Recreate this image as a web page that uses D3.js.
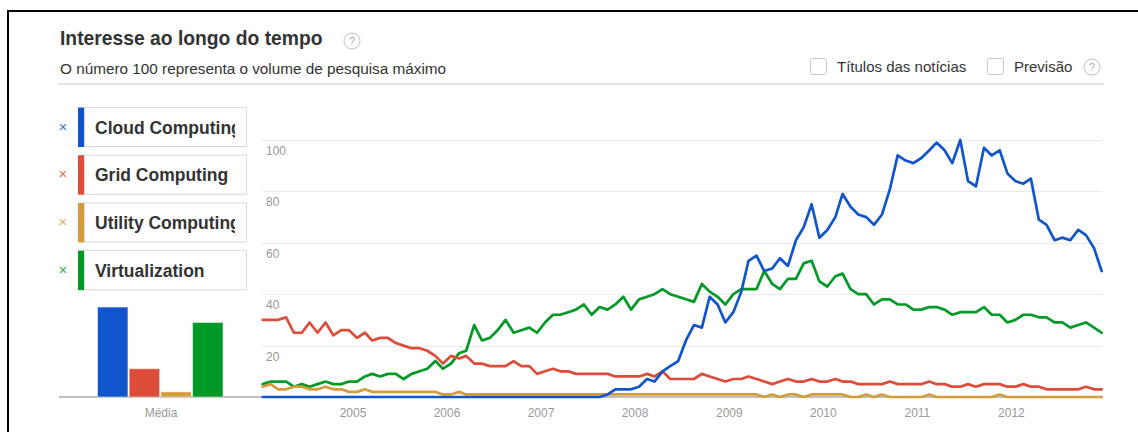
<!DOCTYPE html>
<html lang="pt">
<head>
<meta charset="UTF-8">
<title>Interesse ao longo do tempo</title>
<script src="https://d3js.org/d3.v7.min.js"></script>
<style>
    body { margin: 0; padding: 0; background: #fff; }
    svg { display: block; font-family: 'Liberation Sans', Arial, sans-serif; }
    .grid line { stroke: #ebebeb; stroke-width: 1; }
    .tick-label { font-size: 12px; fill: #999; }
    .legend-text { font-size: 17.5px; font-weight: bold; fill: #333; }
    .series { fill: none; stroke-width: 2.7; stroke-linejoin: round; stroke-linecap: round; }
</style>
</head>
<body>
<div id="chart"></div>
<script>
// series names and colours
const seriesNames = ["Cloud Computing", "Grid Computing", "Utility Computing", "Virtualization"];
const seriesColors = ["#1155cc", "#dd4b39", "#d49c3a", "#009925"];

// monthly values, Jan 2004 .. Dec 2012
const cloud = [
    0,0,0,0,0,0,0,0,0,0,0,0,
    0,0,0,0,0,0,0,0,0,0,0,0,
    0,0,0,0,0,0,0,0,0,0,0,0,
    0,0,0,0,0,0,0,0,1,3,3,3,
    4,7,6,10,12,14,22,28,27,39,36,29,
    33,41,53,55,49,50,54,51,61,66,75,62,
    65,70,79,74,71,70,67,71,81,94,92,91,
    93,96,99,96,91,100,84,82,97,94,96,87,
    84,83,85,69,67,61,62,61,65,63,58,49
];
const grid = [
    30,30,30,31,25,25,29,25,29,24,26,26,
    23,25,22,23,23,21,20,19,19,18,16,13,
    16,15,16,13,13,12,12,12,14,12,12,9,
    10,11,10,10,9,9,9,9,9,8,8,8,
    8,9,8,10,7,7,7,7,9,8,7,6,
    7,7,8,7,6,5,6,7,6,6,7,6,
    6,7,6,6,5,5,5,5,6,5,5,5,
    5,6,5,5,4,4,5,4,5,5,5,4,
    4,5,4,4,3,3,3,3,3,4,3,3
];
const utility = [
    4,5,3,3,4,4,3,3,4,3,3,2,
    2,3,2,2,2,2,2,2,2,2,2,1,
    1,2,1,1,1,1,1,1,1,1,1,1,
    1,1,1,1,1,1,1,1,1,1,1,1,
    1,1,1,1,1,1,1,1,1,1,1,1,
    1,1,1,1,0,1,0,1,1,0,1,1,
    1,1,1,0,0,1,0,1,0,0,0,0,
    0,1,0,0,0,0,0,0,0,0,1,0,
    0,0,0,0,0,0,0,0,0,0,0,0
];
const virtualization = [
    5,6,6,6,4,5,4,5,6,5,5,6,
    6,8,9,8,9,9,7,9,10,11,14,11,
    13,17,18,28,22,23,26,30,25,26,27,25,
    29,32,32,33,34,36,32,35,34,36,39,34,
    38,39,40,42,40,39,38,37,44,41,39,36,
    40,42,42,42,49,44,42,46,46,52,53,45,
    43,47,48,42,40,40,36,38,38,36,36,34,
    34,35,35,34,32,33,33,33,35,32,32,29,
    30,32,32,31,31,29,29,27,28,29,27,25
];
const averages = [35, 11, 2, 29];
const yTicks = [20, 40, 60, 80, 100];
const yearTicks = [2005, 2006, 2007, 2008, 2009, 2010, 2011, 2012];

const seriesData = [cloud, grid, utility, virtualization];
const months = d3.timeMonth.range(new Date(2004, 0, 1), new Date(2013, 0, 1));

const W = 1138, H = 432;
const svg = d3.select("#chart").append("svg").attr("width", W).attr("height", H);
svg.append("rect").attr("width", W).attr("height", H).attr("fill", "#fff");

// frame
svg.append("line").attr("x1", 7).attr("x2", W).attr("y1", 11).attr("y2", 11)
   .attr("stroke", "#000").attr("stroke-width", 2);
svg.append("line").attr("x1", 8).attr("x2", 8).attr("y1", 10).attr("y2", H)
   .attr("stroke", "#000").attr("stroke-width", 2);

// header
svg.append("text").attr("x", 60).attr("y", 45).text("Interesse ao longo do tempo")
   .attr("font-size", 19.3).attr("font-weight", "bold").attr("fill", "#333");
svg.append("text").attr("x", 60).attr("y", 74).text("O número 100 representa o volume de pesquisa máximo")
   .attr("font-size", 15.3).attr("fill", "#333");

function helpIcon(cx, cy) {
    svg.append("circle").attr("cx", cx).attr("cy", cy).attr("r", 8)
       .attr("fill", "#fff").attr("stroke", "#d0d0d0").attr("stroke-width", 1.3);
    svg.append("text").attr("x", cx).attr("y", cy + 4).attr("text-anchor", "middle")
       .attr("font-size", 11).attr("fill", "#aaa").text("?");
}
helpIcon(352, 41);
helpIcon(1092, 67);

function checkbox(x, label) {
    svg.append("rect").attr("x", x + 0.5).attr("y", 58.5).attr("width", 16).attr("height", 16)
       .attr("rx", 2).attr("fill", "#fff").attr("stroke", "#c8c8c8");
    svg.append("text").attr("x", x + 27).attr("y", 72).attr("font-size", 15)
       .attr("fill", "#333").text(label);
}
checkbox(810, "Títulos das notícias");
checkbox(987, "Previsão");

svg.append("line").attr("x1", 58).attr("x2", 1104).attr("y1", 84).attr("y2", 84)
   .attr("stroke", "#ddd").attr("stroke-width", 1.5);

// scales
const x = d3.scaleTime().domain([months[0], months[months.length - 1]]).range([262.7, 1101.7]);
const y = d3.scaleLinear().domain([0, 100]).range([397, 140]);

// gridlines + y labels
const grid_g = svg.append("g").attr("class", "grid");
grid_g.selectAll("line").data(yTicks).join("line")
    .attr("x1", 262).attr("x2", 1102)
    .attr("y1", d => Math.round(y(d)) + 0.5).attr("y2", d => Math.round(y(d)) + 0.5);
svg.selectAll(".ylab").data(yTicks).join("text")
    .attr("class", "tick-label ylab")
    .attr("x", 266).attr("y", d => y(d) + 15).text(d => d);

// x axis labels
svg.selectAll(".xlab").data(yearTicks).join("text")
    .attr("class", "tick-label xlab")
    .attr("x", d => x(new Date(d, 0, 1)) - 4).attr("y", 417)
    .attr("text-anchor", "middle").text(d => d);

// baseline
svg.append("line").attr("x1", 59).attr("x2", 1102).attr("y1", y(0)).attr("y2", y(0))
   .attr("stroke", "#aaa").attr("stroke-width", 1.5);

// lines
const line = d3.line().x((d, i) => x(months[i])).y(d => y(d));
[3, 2, 1, 0].forEach(k => {
    svg.append("path").attr("class", "series")
       .attr("d", line(seriesData[k])).attr("stroke", seriesColors[k]);
});

// legend
const defs = svg.append("defs");
const legend = svg.append("g");
seriesNames.forEach((name, i) => {
    const top = 107.5 + i * 47.7;
    defs.append("clipPath").attr("id", "clip" + i)
        .append("rect").attr("x", 84).attr("y", top).attr("width", 151).attr("height", 39);
    legend.append("rect").attr("x", 84.5).attr("y", top + 1).attr("width", 162).attr("height", 39)
          .attr("fill", "#f2f2f2");
    legend.append("rect").attr("x", 84.5).attr("y", top).attr("width", 162).attr("height", 39)
          .attr("fill", "#fff").attr("stroke", "#dcdcdc");
    legend.append("rect").attr("x", 78).attr("y", top).attr("width", 6).attr("height", 39.5)
          .attr("fill", seriesColors[i]);
    legend.append("text").attr("class", "legend-text").attr("x", 95).attr("y", top + 26)
          .attr("clip-path", `url(#clip${i})`).text(name);
    legend.append("text").attr("x", 63).attr("y", top + 24).attr("text-anchor", "middle")
          .attr("font-size", 15).attr("fill", seriesColors[i]).attr("opacity", 0.8).text("×");
});

// average bars
const xb = d3.scaleBand().domain(seriesNames).range([97.5, 223]).paddingInner(0.04);
svg.selectAll(".avg").data(averages).join("rect")
    .attr("class", "avg")
    .attr("x", (d, i) => xb(seriesNames[i]))
    .attr("y", d => y(d))
    .attr("width", xb.bandwidth())
    .attr("height", d => y(0) - y(d))
    .attr("fill", (d, i) => seriesColors[i])
    .attr("stroke", "#fff").attr("stroke-opacity", 0.5);
svg.append("text").attr("class", "tick-label").attr("x", 161).attr("y", 417)
   .attr("text-anchor", "middle").text("Média");
</script>
</body>
</html>
